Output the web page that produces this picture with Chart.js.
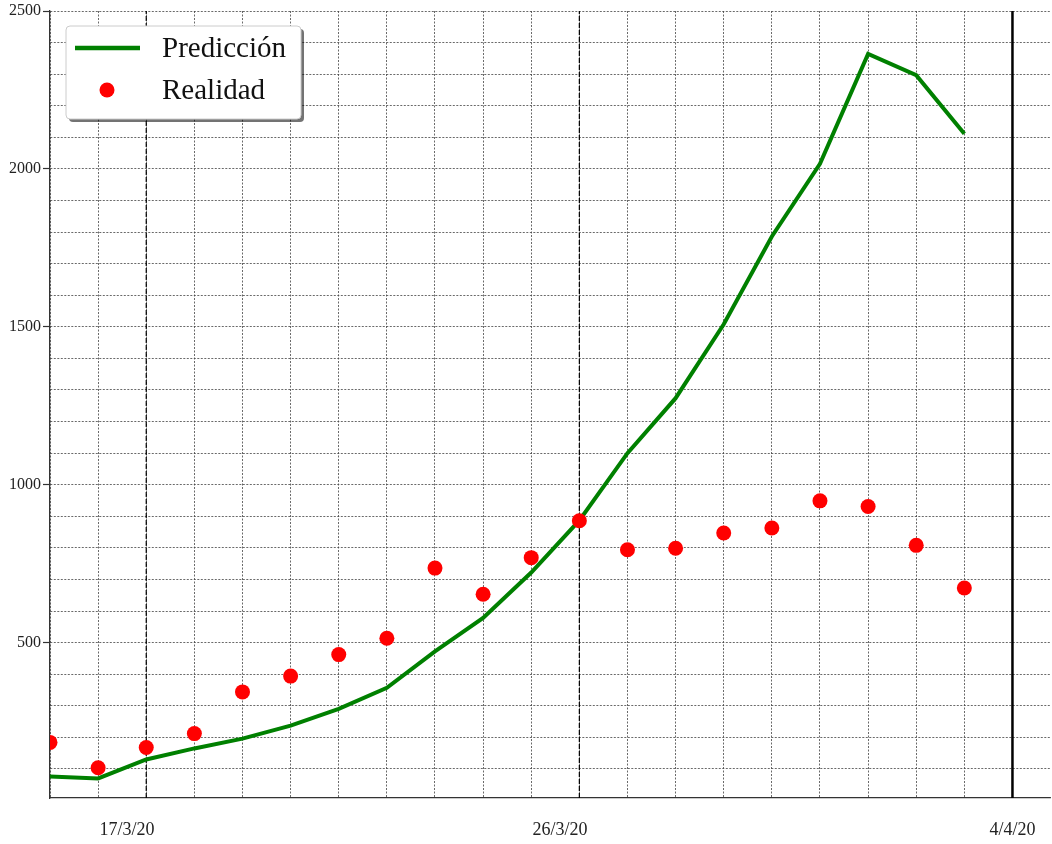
<!DOCTYPE html>
<html>
<head>
<meta charset="utf-8">
<script src="https://cdn.jsdelivr.net/npm/chart.js@4.4.1/dist/chart.umd.min.js"></script>
<style>
  html, body { margin: 0; padding: 0; background: #fff; }
  #wrap { width: 1052px; height: 844px; }
</style>
</head>
<body>
<div id="wrap"><canvas id="grafico" width="1052" height="844"></canvas></div>
<script>
// Días desde el 15/3/20
const dias = [0, 1, 2, 3, 4, 5, 6, 7, 8, 9, 10, 11, 12, 13, 14, 15, 16, 17, 18, 19];
const prediccion = [76, 70, 130, 165, 196, 237, 290, 357, 472, 578, 722, 887, 1100, 1274, 1508, 1786, 2016, 2364, 2297, 2111];
const realidad = [184, 104, 168, 212, 344, 394, 462, 514, 736, 653, 769, 886, 794, 799, 847, 863, 949, 931, 808, 673];

// Etiquetas del eje x (fechas) y líneas verticales de referencia
const fechas = ['17/3/20', '26/3/20', '4/4/20'];
const diasFechas = [1.6, 10.6, 20];
const lineasDiscontinuas = [2, 11];
const lineaFinal = 20;

const yMin = 8, yMax = 2500;
const fuente = "'Liberation Serif', 'DejaVu Serif', serif";

function lineaVertical(dia, estilo) {
    return Object.assign({
        type: 'line',
        data: [{x: dia, y: yMin}, {x: dia, y: yMax}],
        pointRadius: 0,
        borderColor: '#000',
        fill: false,
        clip: 0,
        order: 5
    }, estilo);
}

// Leyenda dibujada dentro del área del gráfico
const leyenda = {
    id: 'leyenda',
    afterDraw(chart) {
        const ctx = chart.ctx;
        const x = 66, y = 26, w = 235, h = 93;
        ctx.save();
        ctx.fillStyle = 'rgba(0,0,0,0.55)';
        roundRect(ctx, x + 3, y + 3, w, h, 4);
        ctx.fill();
        ctx.fillStyle = '#fff';
        ctx.strokeStyle = '#cccccc';
        ctx.lineWidth = 1;
        roundRect(ctx, x, y, w, h, 4);
        ctx.fill();
        ctx.stroke();

        ctx.strokeStyle = 'green';
        ctx.lineWidth = 4.5;
        ctx.beginPath();
        ctx.moveTo(75, 48);
        ctx.lineTo(140, 48);
        ctx.stroke();

        ctx.fillStyle = 'red';
        ctx.beginPath();
        ctx.arc(107, 90, 7.5, 0, Math.PI * 2);
        ctx.fill();

        ctx.fillStyle = '#111';
        ctx.font = '29px ' + fuente;
        ctx.textBaseline = 'middle';
        ctx.fillText('Predicción', 162, 49);
        ctx.fillText('Realidad', 162, 91);
        ctx.restore();
    }
};

function roundRect(ctx, x, y, w, h, r) {
    ctx.beginPath();
    ctx.moveTo(x + r, y);
    ctx.lineTo(x + w - r, y);
    ctx.quadraticCurveTo(x + w, y, x + w, y + r);
    ctx.lineTo(x + w, y + h - r);
    ctx.quadraticCurveTo(x + w, y + h, x + w - r, y + h);
    ctx.lineTo(x + r, y + h);
    ctx.quadraticCurveTo(x, y + h, x, y + h - r);
    ctx.lineTo(x, y + r);
    ctx.quadraticCurveTo(x, y, x + r, y);
    ctx.closePath();
}

const sinRelleno = s => { s.paddingLeft = 0; s.paddingRight = 0; };

const ctx = document.getElementById('grafico').getContext('2d');

new Chart(ctx, {
    type: 'line',
    data: {
        datasets: [
            {
                label: 'Predicción',
                data: dias.map((d, i) => ({x: d, y: prediccion[i]})),
                borderColor: 'green',
                borderWidth: 4,
                pointRadius: 0,
                fill: false,
                tension: 0,
                clip: 0,
                order: 2
            },
            {
                label: 'Realidad',
                type: 'scatter',
                data: dias.map((d, i) => ({x: d, y: realidad[i]})),
                backgroundColor: 'red',
                borderWidth: 0,
                pointRadius: 7.5,
                showLine: false,
                clip: 0,
                order: 1
            },
            lineaVertical(lineasDiscontinuas[0], {borderWidth: 1.2, borderDash: [5, 2]}),
            lineaVertical(lineasDiscontinuas[1], {borderWidth: 1.2, borderDash: [5, 2]}),
            lineaVertical(lineaFinal, {borderWidth: 2.5})
        ]
    },
    options: {
        responsive: false,
        animation: false,
        layout: { autoPadding: false, padding: { top: 11, right: 2, left: 0, bottom: 0 } },
        plugins: {
            legend: { display: false },
            tooltip: { enabled: false }
        },
        scales: {
            x: {
                type: 'linear',
                min: 0,
                max: 20.78,
                afterBuildTicks: s => { s.ticks = dias.concat([20]).map(v => ({value: v})); },
                afterFit: s => { s.height = 0; sinRelleno(s); },
                ticks: { display: false },
                grid: { color: '#444', lineWidth: 0.8, drawTicks: false },
                border: { display: true, color: '#333', width: 1.3, dash: [2, 1.5] }
            },
            xl: {
                type: 'linear',
                position: 'bottom',
                min: 0,
                max: 20.78,
                afterBuildTicks: s => { s.ticks = diasFechas.map(v => ({value: v})); },
                afterFit: s => { s.height = 46; sinRelleno(s); },
                ticks: {
                    autoSkip: false,
                    maxRotation: 0,
                    padding: 21,
                    color: '#222',
                    font: { family: fuente, size: 18 },
                    callback: (v, i) => fechas[i]
                },
                grid: { display: false, drawTicks: false },
                border: { display: false }
            },
            y: {
                min: yMin,
                max: yMax,
                afterBuildTicks: s => {
                    const t = [];
                    for (let v = 100; v <= 2500; v += 100) t.push({value: v});
                    s.ticks = t;
                },
                afterFit: s => { s.width = 50; s.paddingTop = 0; s.paddingBottom = 0; },
                ticks: {
                    autoSkip: false,
                    padding: 2,
                    color: '#222',
                    font: { family: fuente, size: 16 },
                    callback: v => (v % 500 === 0 ? String(v) : '')
                },
                grid: {
                    color: '#444',
                    lineWidth: 0.8,
                    tickLength: 7,
                    tickColor: c => (c.tick && c.tick.value % 500 === 0 ? '#333' : 'rgba(0,0,0,0)'),
                    tickWidth: 1.2
                },
                border: { display: true, color: '#333', width: 1.3, dash: [2, 1.5] }
            }
        }
    },
    plugins: [leyenda]
});
</script>
</body>
</html>
